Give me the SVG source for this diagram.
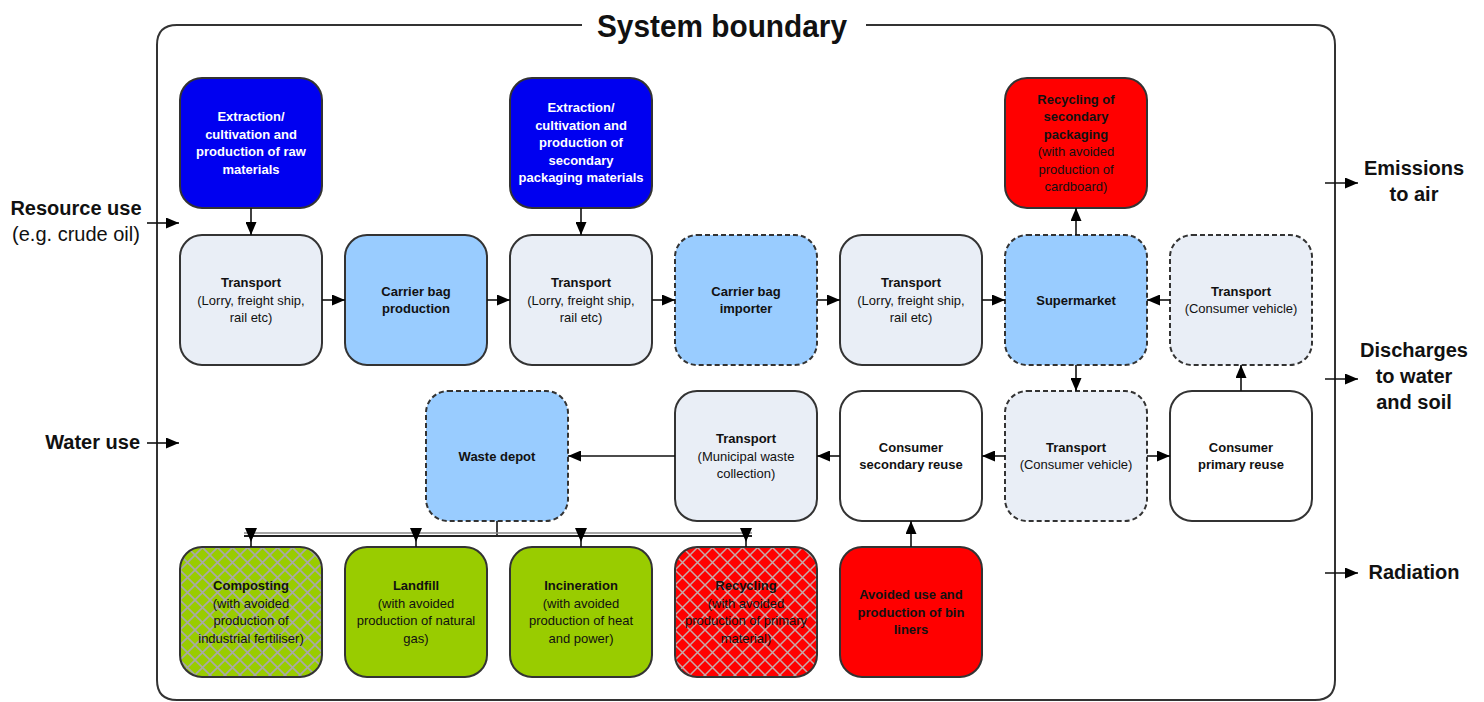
<svg xmlns="http://www.w3.org/2000/svg" width="1484" height="702" viewBox="0 0 1484 702">
<style>
text{font-family:"Liberation Sans",Arial,sans-serif;fill:#111}
.n{stroke:#333;stroke-width:2}
.d{stroke-dasharray:5,3}
.blue{fill:#0000f0}
.lt{fill:#e9eef6}
.mid{fill:#99ccff}
.wh{fill:#ffffff}
.red{fill:#ff0000}
.grn{fill:#99cc00}
.t{font-size:13px;text-anchor:middle}
.b{font-weight:bold}
.w{fill:#ffffff}
.lbl{font-size:20px;font-weight:bold}
.c{stroke:#111;stroke-width:1.6;fill:none}
</style>
<defs>
<marker id="ah" markerWidth="13" markerHeight="11" refX="13" refY="5.5" orient="auto" markerUnits="userSpaceOnUse"><path d="M0,0 L13,5.5 L0,11 z" fill="#000"/></marker>
<pattern id="hatch" width="15" height="15" patternUnits="userSpaceOnUse"><path d="M0,0 L15,15 M15,0 L0,15" stroke="#a8a8a8" stroke-width="1.6" fill="none"/></pattern>
<pattern id="hatchr" width="15" height="15" patternUnits="userSpaceOnUse"><path d="M0,0 L15,15 M15,0 L0,15" stroke="#c8a8a8" stroke-width="1.5" fill="none"/></pattern>
</defs>

<g id="boundary">
<path d="M582,25 L177,25 Q157,25 157,45 L157,680 Q157,700 177,700 L1315,700 Q1335,700 1335,680 L1335,45 Q1335,25 1315,25 L866,25" fill="none" stroke="#333" stroke-width="2"/>
<text x="722" y="37" font-size="31" font-weight="bold" text-anchor="middle" textLength="250" lengthAdjust="spacingAndGlyphs">System boundary</text>
</g>

<g id="labels">
<text class="lbl" x="76" y="215" text-anchor="middle">Resource use</text>
<text x="76" y="241" font-size="20" text-anchor="middle">(e.g. crude oil)</text>
<text class="lbl" x="140" y="449" text-anchor="end">Water use</text>
<text class="lbl" x="1414" y="175" text-anchor="middle">Emissions</text>
<text class="lbl" x="1414" y="201" text-anchor="middle">to air</text>
<text class="lbl" x="1414" y="357" text-anchor="middle">Discharges</text>
<text class="lbl" x="1414" y="383" text-anchor="middle">to water</text>
<text class="lbl" x="1414" y="409" text-anchor="middle">and soil</text>
<text class="lbl" x="1414" y="579" text-anchor="middle">Radiation</text>
</g>

<g id="extraction-raw">
<rect class="n blue" x="180" y="78" width="142" height="130" rx="22"/>
<text class="t b w"><tspan x="251" y="121">Extraction/</tspan><tspan x="251" y="138.5">cultivation and</tspan><tspan x="251" y="156">production of raw</tspan><tspan x="251" y="173.5">materials</tspan></text>
</g>
<g id="extraction-secondary">
<rect class="n blue" x="510" y="78" width="142" height="130" rx="22"/>
<text class="t b w"><tspan x="581" y="112.3">Extraction/</tspan><tspan x="581" y="129.8">cultivation and</tspan><tspan x="581" y="147.3">production of</tspan><tspan x="581" y="164.8">secondary</tspan><tspan x="581" y="182.3">packaging materials</tspan></text>
</g>
<g id="recycling-secondary">
<rect class="n red" x="1005" y="78" width="142" height="130" rx="22"/>
<text class="t"><tspan class="b" x="1076" y="103.5">Recycling of</tspan><tspan class="b" x="1076" y="121">secondary</tspan><tspan class="b" x="1076" y="138.5">packaging</tspan><tspan x="1076" y="156">(with avoided</tspan><tspan x="1076" y="173.5">production of</tspan><tspan x="1076" y="191">cardboard)</tspan></text>
</g>

<g id="transport-1">
<rect class="n lt" x="180" y="235" width="142" height="130" rx="22"/>
<text class="t"><tspan class="b" x="251" y="287">Transport</tspan><tspan x="251" y="304.5">(Lorry, freight ship,</tspan><tspan x="251" y="322">rail etc)</tspan></text>
</g>
<g id="carrier-bag-production">
<rect class="n mid" x="345" y="235" width="142" height="130" rx="22"/>
<text class="t b"><tspan x="416" y="295.8">Carrier bag</tspan><tspan x="416" y="313.3">production</tspan></text>
</g>
<g id="transport-2">
<rect class="n lt" x="510" y="235" width="142" height="130" rx="22"/>
<text class="t"><tspan class="b" x="581" y="287">Transport</tspan><tspan x="581" y="304.5">(Lorry, freight ship,</tspan><tspan x="581" y="322">rail etc)</tspan></text>
</g>
<g id="carrier-bag-importer">
<rect class="n mid d" x="675" y="235" width="142" height="130" rx="22"/>
<text class="t b"><tspan x="746" y="295.8">Carrier bag</tspan><tspan x="746" y="313.3">importer</tspan></text>
</g>
<g id="transport-3">
<rect class="n lt" x="840" y="235" width="142" height="130" rx="22"/>
<text class="t"><tspan class="b" x="911" y="287">Transport</tspan><tspan x="911" y="304.5">(Lorry, freight ship,</tspan><tspan x="911" y="322">rail etc)</tspan></text>
</g>
<g id="supermarket">
<rect class="n mid d" x="1005" y="235" width="142" height="130" rx="22"/>
<text class="t b" x="1076" y="304.5">Supermarket</text>
</g>
<g id="transport-consumer-1">
<rect class="n lt d" x="1170" y="235" width="142" height="130" rx="22"/>
<text class="t"><tspan class="b" x="1241" y="295.8">Transport</tspan><tspan x="1241" y="313.3">(Consumer vehicle)</tspan></text>
</g>

<g id="waste-depot">
<rect class="n mid d" x="426" y="391" width="142" height="130" rx="22"/>
<text class="t b" x="497" y="460.5">Waste depot</text>
</g>
<g id="transport-municipal">
<rect class="n lt" x="675" y="391" width="142" height="130" rx="22"/>
<text class="t"><tspan class="b" x="746" y="443">Transport</tspan><tspan x="746" y="460.5">(Municipal waste</tspan><tspan x="746" y="478">collection)</tspan></text>
</g>
<g id="consumer-secondary-reuse">
<rect class="n wh" x="840" y="391" width="142" height="130" rx="22"/>
<text class="t b"><tspan x="911" y="451.8">Consumer</tspan><tspan x="911" y="469.3">secondary reuse</tspan></text>
</g>
<g id="transport-consumer-2">
<rect class="n lt d" x="1005" y="391" width="142" height="130" rx="22"/>
<text class="t"><tspan class="b" x="1076" y="451.8">Transport</tspan><tspan x="1076" y="469.3">(Consumer vehicle)</tspan></text>
</g>
<g id="consumer-primary-reuse">
<rect class="n wh" x="1170" y="391" width="142" height="130" rx="22"/>
<text class="t b"><tspan x="1241" y="451.8">Consumer</tspan><tspan x="1241" y="469.3">primary reuse</tspan></text>
</g>

<g id="composting">
<rect class="grn" x="180" y="547" width="142" height="130" rx="22"/>
<rect class="n" fill="url(#hatch)" x="180" y="547" width="142" height="130" rx="22"/>
<text class="t"><tspan class="b" x="251" y="590">Composting</tspan><tspan x="251" y="607.5">(with avoided</tspan><tspan x="251" y="625">production of</tspan><tspan x="251" y="642.5">industrial fertiliser)</tspan></text>
</g>
<g id="landfill">
<rect class="n grn" x="345" y="547" width="142" height="130" rx="22"/>
<text class="t"><tspan class="b" x="416" y="590">Landfill</tspan><tspan x="416" y="607.5">(with avoided</tspan><tspan x="416" y="625">production of natural</tspan><tspan x="416" y="642.5">gas)</tspan></text>
</g>
<g id="incineration">
<rect class="n grn" x="510" y="547" width="142" height="130" rx="22"/>
<text class="t"><tspan class="b" x="581" y="590">Incineration</tspan><tspan x="581" y="607.5">(with avoided</tspan><tspan x="581" y="625">production of heat</tspan><tspan x="581" y="642.5">and power)</tspan></text>
</g>
<g id="recycling">
<rect class="red" x="675" y="547" width="142" height="130" rx="22"/>
<rect class="n" fill="url(#hatchr)" x="675" y="547" width="142" height="130" rx="22"/>
<text class="t"><tspan class="b" x="746" y="590">Recycling</tspan><tspan x="746" y="607.5">(with avoided</tspan><tspan x="746" y="625">production of primary</tspan><tspan x="746" y="642.5">material)</tspan></text>
</g>
<g id="avoided-bin-liners">
<rect class="n red" x="840" y="547" width="142" height="130" rx="22"/>
<text class="t b"><tspan x="911" y="599">Avoided use and</tspan><tspan x="911" y="616.5">production of bin</tspan><tspan x="911" y="634">liners</tspan></text>
</g>

<g id="connectors">
<line class="c" x1="147" y1="223" x2="179" y2="223" marker-end="url(#ah)"/>
<line class="c" x1="147" y1="443" x2="179" y2="443" marker-end="url(#ah)"/>
<line class="c" x1="1325" y1="183" x2="1358" y2="183" marker-end="url(#ah)"/>
<line class="c" x1="1325" y1="379" x2="1358" y2="379" marker-end="url(#ah)"/>
<line class="c" x1="1325" y1="573" x2="1358" y2="573" marker-end="url(#ah)"/>

<line class="c" x1="251" y1="208" x2="251" y2="235" marker-end="url(#ah)"/>
<line class="c" x1="581" y1="208" x2="581" y2="235" marker-end="url(#ah)"/>
<line class="c" x1="322" y1="300" x2="345" y2="300" marker-end="url(#ah)"/>
<line class="c" x1="487" y1="300" x2="510" y2="300" marker-end="url(#ah)"/>
<line class="c" x1="652" y1="300" x2="675" y2="300" marker-end="url(#ah)"/>
<line class="c" x1="817" y1="300" x2="840" y2="300" marker-end="url(#ah)"/>
<line class="c" x1="982" y1="300" x2="1005" y2="300" marker-end="url(#ah)"/>
<line class="c" x1="1170" y1="300" x2="1147" y2="300" marker-end="url(#ah)"/>
<line class="c" x1="1076" y1="235" x2="1076" y2="208" marker-end="url(#ah)"/>
<line class="c" x1="1076" y1="365" x2="1076" y2="391" marker-end="url(#ah)"/>
<line class="c" x1="1241" y1="391" x2="1241" y2="365" marker-end="url(#ah)"/>
<line class="c" x1="1147" y1="456" x2="1170" y2="456" marker-end="url(#ah)"/>
<line class="c" x1="1005" y1="456" x2="982" y2="456" marker-end="url(#ah)"/>
<line class="c" x1="840" y1="456" x2="817" y2="456" marker-end="url(#ah)"/>
<line class="c" x1="675" y1="456" x2="568" y2="456" marker-end="url(#ah)"/>
<line class="c" x1="911" y1="547" x2="911" y2="521" marker-end="url(#ah)"/>

<line class="c" x1="497" y1="521" x2="497" y2="536"/>
<line x1="244" y1="533" x2="752" y2="533" stroke="#888" stroke-width="1.3"/>
<line x1="244" y1="536" x2="752" y2="536" stroke="#222" stroke-width="1.8"/>
<line class="c" x1="251" y1="536" x2="251" y2="547"/>
<line class="c" x1="416" y1="536" x2="416" y2="547"/>
<line class="c" x1="581" y1="536" x2="581" y2="547"/>
<line class="c" x1="746" y1="536" x2="746" y2="547"/>
<path d="M245,528 L257,528 L251,542 z M410,528 L422,528 L416,542 z M575,528 L587,528 L581,542 z M740,528 L752,528 L746,542 z" fill="#000"/>
</g>
</svg>
